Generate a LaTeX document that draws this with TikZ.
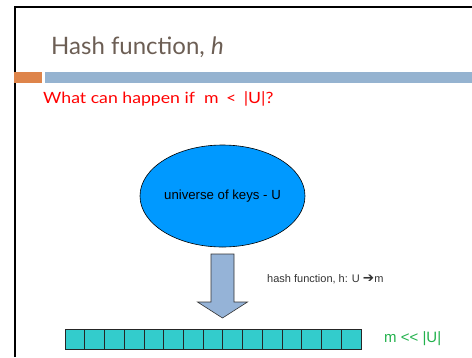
\documentclass[tikz,border=0pt]{standalone}
\usepackage{fontspec}
\setmainfont{Liberation Sans}
\newfontfamily\titlefont{Lato}
\newfontfamily\symfont{DejaVu Sans}
\usetikzlibrary{shapes.geometric}
\definecolor{titlegray}{RGB}{108,94,84}
\definecolor{barorange}{RGB}{222,132,74}
\definecolor{barblue}{RGB}{149,179,208}
\definecolor{keyblue}{RGB}{0,153,255}
\definecolor{arrowblue}{RGB}{149,179,215}
\definecolor{cellteal}{RGB}{51,204,204}
\definecolor{mgreen}{RGB}{34,177,76}
\tikzset{
  cell/.style={draw=black!85, fill=cellteal, line width=0.8pt, minimum width=19.73pt, minimum height=20pt, inner sep=0pt, outer sep=0pt},
  frameline/.style={line width=2pt, black}
}
\begin{document}
\begin{tikzpicture}[x=1pt,y=-1pt]
\useasboundingbox (0,0) rectangle (472,357);
% frame
\draw[frameline] (15,357) -- (15,7) -- (472,7);
% title
\node[anchor=base west, inner sep=0pt, text=titlegray, font=\titlefont\fontsize{24}{24}\selectfont] (title) at (51,54) {Hash function, \textit{h}};
% bars
\fill[barorange] (14,72) rectangle (42,83);
\fill[barblue] (45,72) rectangle (472,83);
% question
\node[anchor=base west, inner sep=0pt, text=red, font=\titlefont\fontsize{15.5}{16}\selectfont] (q) at (43,103) {\scalebox{1.14}[1]{What can happen if\ \ m\, <\, |U|?}};
% ellipse
\node[ellipse, draw=black, line width=0.6pt, fill=keyblue, minimum width=165pt, minimum height=102pt, inner sep=0pt, font=\fontsize{13.2}{15}\selectfont] (U) at (222.5,196) {universe of keys - U};
% block arrow
\coordinate (atop) at (222.5,254);
\draw[fill=arrowblue, draw=black!80, line width=0.6pt] (211,254) -- (234,254) -- (234,302) -- (247.5,302) -- (222.5,318) -- (197.5,302) -- (211,302) -- cycle;
\node[anchor=west, inner sep=0pt, text=black!80, font=\fontsize{11}{13}\selectfont] (hf) at (267,279) {hash function, h: U {\symfont\bfseries\fontsize{13.5}{13}\selectfont ➔}m};
% cells
\foreach \i in {0,...,14} {
  \node[cell, anchor=north west] (c\i) at ({65+19.73*\i},329) {};
}
\node[anchor=west, inner sep=0pt, text=mgreen, font=\fontsize{15}{17}\selectfont] (mll) at (384,339) {m <{}< |U|};
\end{tikzpicture}
\end{document}
